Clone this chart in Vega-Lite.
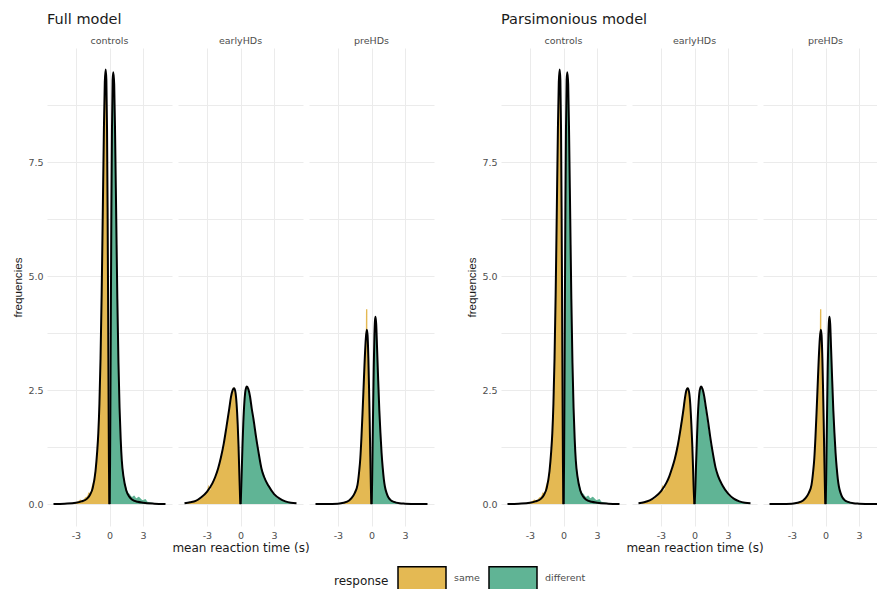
{
 "$schema": "https://vega.github.io/schema/vega-lite/v6.json",
 "background": "white",
 "padding": {"left": 12, "top": 12, "right": 0, "bottom": 0},
 "datasets": {"d": [
  {"k":"h","m":"*","g":"controls","r":"same","x":-4.2,"y":0},
  {"k":"h","m":"*","g":"controls","r":"same","x":-3.6,"y":0.02},
  {"k":"h","m":"*","g":"controls","r":"same","x":-3.2,"y":0.03},
  {"k":"h","m":"*","g":"controls","r":"same","x":-2.8,"y":0.06},
  {"k":"h","m":"*","g":"controls","r":"same","x":-2.6,"y":0.1},
  {"k":"h","m":"*","g":"controls","r":"same","x":-2.4,"y":0.07},
  {"k":"h","m":"*","g":"controls","r":"same","x":-2.2,"y":0.14},
  {"k":"h","m":"*","g":"controls","r":"same","x":-2.0,"y":0.17},
  {"k":"h","m":"*","g":"controls","r":"same","x":-1.85,"y":0.26},
  {"k":"h","m":"*","g":"controls","r":"same","x":-1.7,"y":0.24},
  {"k":"h","m":"*","g":"controls","r":"same","x":-1.6,"y":0.38},
  {"k":"h","m":"*","g":"controls","r":"same","x":-1.5,"y":0.46},
  {"k":"h","m":"*","g":"controls","r":"same","x":-1.4,"y":0.55},
  {"k":"h","m":"*","g":"controls","r":"same","x":-1.3,"y":0.72},
  {"k":"h","m":"*","g":"controls","r":"same","x":-1.2,"y":0.95},
  {"k":"h","m":"*","g":"controls","r":"same","x":-1.1,"y":1.2},
  {"k":"h","m":"*","g":"controls","r":"same","x":-1.0,"y":1.55},
  {"k":"h","m":"*","g":"controls","r":"same","x":-0.9,"y":2.2},
  {"k":"h","m":"*","g":"controls","r":"same","x":-0.8,"y":3.2},
  {"k":"h","m":"*","g":"controls","r":"same","x":-0.7,"y":4.6},
  {"k":"h","m":"*","g":"controls","r":"same","x":-0.6,"y":6.4},
  {"k":"h","m":"*","g":"controls","r":"same","x":-0.5,"y":8.2},
  {"k":"h","m":"*","g":"controls","r":"same","x":-0.42,"y":9.25},
  {"k":"h","m":"*","g":"controls","r":"same","x":-0.34,"y":9.5},
  {"k":"h","m":"*","g":"controls","r":"same","x":-0.28,"y":9.3},
  {"k":"h","m":"*","g":"controls","r":"same","x":-0.22,"y":8.2},
  {"k":"h","m":"*","g":"controls","r":"same","x":-0.17,"y":6.5},
  {"k":"h","m":"*","g":"controls","r":"same","x":-0.12,"y":4.2},
  {"k":"h","m":"*","g":"controls","r":"same","x":-0.08,"y":2.2},
  {"k":"h","m":"*","g":"controls","r":"same","x":-0.05,"y":0.9},
  {"k":"h","m":"*","g":"controls","r":"same","x":-0.02,"y":0.15},
  {"k":"h","m":"*","g":"controls","r":"same","x":0,"y":0},
  {"k":"h","m":"*","g":"controls","r":"different","x":0,"y":0},
  {"k":"h","m":"*","g":"controls","r":"different","x":0.02,"y":0.15},
  {"k":"h","m":"*","g":"controls","r":"different","x":0.05,"y":0.9},
  {"k":"h","m":"*","g":"controls","r":"different","x":0.08,"y":2.2},
  {"k":"h","m":"*","g":"controls","r":"different","x":0.12,"y":4.2},
  {"k":"h","m":"*","g":"controls","r":"different","x":0.17,"y":6.5},
  {"k":"h","m":"*","g":"controls","r":"different","x":0.22,"y":8.2},
  {"k":"h","m":"*","g":"controls","r":"different","x":0.28,"y":9.3},
  {"k":"h","m":"*","g":"controls","r":"different","x":0.34,"y":9.45},
  {"k":"h","m":"*","g":"controls","r":"different","x":0.42,"y":9.2},
  {"k":"h","m":"*","g":"controls","r":"different","x":0.5,"y":8.1},
  {"k":"h","m":"*","g":"controls","r":"different","x":0.6,"y":6.3},
  {"k":"h","m":"*","g":"controls","r":"different","x":0.7,"y":4.5},
  {"k":"h","m":"*","g":"controls","r":"different","x":0.8,"y":3.1},
  {"k":"h","m":"*","g":"controls","r":"different","x":0.9,"y":2.1},
  {"k":"h","m":"*","g":"controls","r":"different","x":1.0,"y":1.45},
  {"k":"h","m":"*","g":"controls","r":"different","x":1.1,"y":1.05},
  {"k":"h","m":"*","g":"controls","r":"different","x":1.2,"y":0.78},
  {"k":"h","m":"*","g":"controls","r":"different","x":1.3,"y":0.58},
  {"k":"h","m":"*","g":"controls","r":"different","x":1.4,"y":0.46},
  {"k":"h","m":"*","g":"controls","r":"different","x":1.5,"y":0.36},
  {"k":"h","m":"*","g":"controls","r":"different","x":1.6,"y":0.28},
  {"k":"h","m":"*","g":"controls","r":"different","x":1.8,"y":0.22},
  {"k":"h","m":"*","g":"controls","r":"different","x":2.0,"y":0.16},
  {"k":"h","m":"*","g":"controls","r":"different","x":2.2,"y":0.19},
  {"k":"h","m":"*","g":"controls","r":"different","x":2.4,"y":0.13},
  {"k":"h","m":"*","g":"controls","r":"different","x":2.6,"y":0.16},
  {"k":"h","m":"*","g":"controls","r":"different","x":2.8,"y":0.12},
  {"k":"h","m":"*","g":"controls","r":"different","x":3.0,"y":0.09},
  {"k":"h","m":"*","g":"controls","r":"different","x":3.2,"y":0.11},
  {"k":"h","m":"*","g":"controls","r":"different","x":3.4,"y":0.05},
  {"k":"h","m":"*","g":"controls","r":"different","x":3.8,"y":0.03},
  {"k":"h","m":"*","g":"controls","r":"different","x":4.4,"y":0},

  {"k":"d","m":"*","g":"controls","r":"same","x":-5,"y":0},
  {"k":"d","m":"*","g":"controls","r":"same","x":-4,"y":0.01},
  {"k":"d","m":"*","g":"controls","r":"same","x":-3,"y":0.03},
  {"k":"d","m":"*","g":"controls","r":"same","x":-2.5,"y":0.06},
  {"k":"d","m":"*","g":"controls","r":"same","x":-2,"y":0.12},
  {"k":"d","m":"*","g":"controls","r":"same","x":-1.75,"y":0.2},
  {"k":"d","m":"*","g":"controls","r":"same","x":-1.5,"y":0.35},
  {"k":"d","m":"*","g":"controls","r":"same","x":-1.25,"y":0.72},
  {"k":"d","m":"*","g":"controls","r":"same","x":-1.1,"y":1.15},
  {"k":"d","m":"*","g":"controls","r":"same","x":-1.0,"y":1.55},
  {"k":"d","m":"*","g":"controls","r":"same","x":-0.9,"y":2.2},
  {"k":"d","m":"*","g":"controls","r":"same","x":-0.8,"y":3.2},
  {"k":"d","m":"*","g":"controls","r":"same","x":-0.7,"y":4.6},
  {"k":"d","m":"*","g":"controls","r":"same","x":-0.6,"y":6.4},
  {"k":"d","m":"*","g":"controls","r":"same","x":-0.5,"y":8.2},
  {"k":"d","m":"*","g":"controls","r":"same","x":-0.42,"y":9.25},
  {"k":"d","m":"*","g":"controls","r":"same","x":-0.34,"y":9.53},
  {"k":"d","m":"*","g":"controls","r":"same","x":-0.28,"y":9.3},
  {"k":"d","m":"*","g":"controls","r":"same","x":-0.22,"y":8.2},
  {"k":"d","m":"*","g":"controls","r":"same","x":-0.17,"y":6.5},
  {"k":"d","m":"*","g":"controls","r":"same","x":-0.12,"y":4.2},
  {"k":"d","m":"*","g":"controls","r":"same","x":-0.08,"y":2.2},
  {"k":"d","m":"*","g":"controls","r":"same","x":-0.05,"y":0.9},
  {"k":"d","m":"*","g":"controls","r":"same","x":-0.02,"y":0.15},
  {"k":"d","m":"*","g":"controls","r":"same","x":0,"y":0},
  {"k":"d","m":"*","g":"controls","r":"different","x":0,"y":0},
  {"k":"d","m":"*","g":"controls","r":"different","x":0.02,"y":0.15},
  {"k":"d","m":"*","g":"controls","r":"different","x":0.05,"y":0.9},
  {"k":"d","m":"*","g":"controls","r":"different","x":0.08,"y":2.2},
  {"k":"d","m":"*","g":"controls","r":"different","x":0.12,"y":4.2},
  {"k":"d","m":"*","g":"controls","r":"different","x":0.17,"y":6.5},
  {"k":"d","m":"*","g":"controls","r":"different","x":0.22,"y":8.2},
  {"k":"d","m":"*","g":"controls","r":"different","x":0.28,"y":9.3},
  {"k":"d","m":"*","g":"controls","r":"different","x":0.34,"y":9.47},
  {"k":"d","m":"*","g":"controls","r":"different","x":0.42,"y":9.2},
  {"k":"d","m":"*","g":"controls","r":"different","x":0.5,"y":8.1},
  {"k":"d","m":"*","g":"controls","r":"different","x":0.6,"y":6.3},
  {"k":"d","m":"*","g":"controls","r":"different","x":0.7,"y":4.5},
  {"k":"d","m":"*","g":"controls","r":"different","x":0.8,"y":3.1},
  {"k":"d","m":"*","g":"controls","r":"different","x":0.9,"y":2.1},
  {"k":"d","m":"*","g":"controls","r":"different","x":1.0,"y":1.42},
  {"k":"d","m":"*","g":"controls","r":"different","x":1.1,"y":0.95},
  {"k":"d","m":"*","g":"controls","r":"different","x":1.25,"y":0.6},
  {"k":"d","m":"*","g":"controls","r":"different","x":1.5,"y":0.3},
  {"k":"d","m":"*","g":"controls","r":"different","x":1.75,"y":0.17},
  {"k":"d","m":"*","g":"controls","r":"different","x":2,"y":0.1},
  {"k":"d","m":"*","g":"controls","r":"different","x":2.5,"y":0.05},
  {"k":"d","m":"*","g":"controls","r":"different","x":3,"y":0.03},
  {"k":"d","m":"*","g":"controls","r":"different","x":4,"y":0.01},
  {"k":"d","m":"*","g":"controls","r":"different","x":5,"y":0},

  {"k":"h","m":"*","g":"earlyHDs","r":"same","x":-5,"y":0},
  {"k":"h","m":"*","g":"earlyHDs","r":"same","x":-4.6,"y":0.03},
  {"k":"h","m":"*","g":"earlyHDs","r":"same","x":-4.2,"y":0.05},
  {"k":"h","m":"*","g":"earlyHDs","r":"same","x":-3.8,"y":0.09},
  {"k":"h","m":"*","g":"earlyHDs","r":"same","x":-3.5,"y":0.13},
  {"k":"h","m":"*","g":"earlyHDs","r":"same","x":-3.2,"y":0.2},
  {"k":"h","m":"*","g":"earlyHDs","r":"same","x":-3.0,"y":0.27},
  {"k":"h","m":"*","g":"earlyHDs","r":"same","x":-2.85,"y":0.42},
  {"k":"h","m":"*","g":"earlyHDs","r":"same","x":-2.75,"y":0.3},
  {"k":"h","m":"*","g":"earlyHDs","r":"same","x":-2.5,"y":0.48},
  {"k":"h","m":"*","g":"earlyHDs","r":"same","x":-2.25,"y":0.62},
  {"k":"h","m":"*","g":"earlyHDs","r":"same","x":-2.0,"y":0.8},
  {"k":"h","m":"*","g":"earlyHDs","r":"same","x":-1.75,"y":1.05},
  {"k":"h","m":"*","g":"earlyHDs","r":"same","x":-1.5,"y":1.36},
  {"k":"h","m":"*","g":"earlyHDs","r":"same","x":-1.25,"y":1.74},
  {"k":"h","m":"*","g":"earlyHDs","r":"same","x":-1.0,"y":2.14},
  {"k":"h","m":"*","g":"earlyHDs","r":"same","x":-0.85,"y":2.38},
  {"k":"h","m":"*","g":"earlyHDs","r":"same","x":-0.7,"y":2.52},
  {"k":"h","m":"*","g":"earlyHDs","r":"same","x":-0.6,"y":2.56},
  {"k":"h","m":"*","g":"earlyHDs","r":"same","x":-0.5,"y":2.46},
  {"k":"h","m":"*","g":"earlyHDs","r":"same","x":-0.4,"y":2.28},
  {"k":"h","m":"*","g":"earlyHDs","r":"same","x":-0.3,"y":1.98},
  {"k":"h","m":"*","g":"earlyHDs","r":"same","x":-0.25,"y":1.75},
  {"k":"h","m":"*","g":"earlyHDs","r":"same","x":-0.18,"y":1.3},
  {"k":"h","m":"*","g":"earlyHDs","r":"same","x":-0.12,"y":0.8},
  {"k":"h","m":"*","g":"earlyHDs","r":"same","x":-0.07,"y":0.4},
  {"k":"h","m":"*","g":"earlyHDs","r":"same","x":-0.03,"y":0.1},
  {"k":"h","m":"*","g":"earlyHDs","r":"same","x":0,"y":0},
  {"k":"h","m":"*","g":"earlyHDs","r":"different","x":0,"y":0},
  {"k":"h","m":"*","g":"earlyHDs","r":"different","x":0.03,"y":0.1},
  {"k":"h","m":"*","g":"earlyHDs","r":"different","x":0.07,"y":0.42},
  {"k":"h","m":"*","g":"earlyHDs","r":"different","x":0.12,"y":0.85},
  {"k":"h","m":"*","g":"earlyHDs","r":"different","x":0.18,"y":1.35},
  {"k":"h","m":"*","g":"earlyHDs","r":"different","x":0.25,"y":1.82},
  {"k":"h","m":"*","g":"earlyHDs","r":"different","x":0.35,"y":2.28},
  {"k":"h","m":"*","g":"earlyHDs","r":"different","x":0.45,"y":2.5},
  {"k":"h","m":"*","g":"earlyHDs","r":"different","x":0.57,"y":2.55},
  {"k":"h","m":"*","g":"earlyHDs","r":"different","x":0.7,"y":2.5},
  {"k":"h","m":"*","g":"earlyHDs","r":"different","x":0.85,"y":2.32},
  {"k":"h","m":"*","g":"earlyHDs","r":"different","x":1.0,"y":2.06},
  {"k":"h","m":"*","g":"earlyHDs","r":"different","x":1.2,"y":1.72},
  {"k":"h","m":"*","g":"earlyHDs","r":"different","x":1.4,"y":1.4},
  {"k":"h","m":"*","g":"earlyHDs","r":"different","x":1.6,"y":1.12},
  {"k":"h","m":"*","g":"earlyHDs","r":"different","x":1.8,"y":0.9},
  {"k":"h","m":"*","g":"earlyHDs","r":"different","x":2.0,"y":0.72},
  {"k":"h","m":"*","g":"earlyHDs","r":"different","x":2.25,"y":0.54},
  {"k":"h","m":"*","g":"earlyHDs","r":"different","x":2.5,"y":0.4},
  {"k":"h","m":"*","g":"earlyHDs","r":"different","x":2.75,"y":0.3},
  {"k":"h","m":"*","g":"earlyHDs","r":"different","x":3.0,"y":0.2},
  {"k":"h","m":"*","g":"earlyHDs","r":"different","x":3.5,"y":0.1},
  {"k":"h","m":"*","g":"earlyHDs","r":"different","x":4.0,"y":0.05},
  {"k":"h","m":"*","g":"earlyHDs","r":"different","x":4.5,"y":0.02},
  {"k":"h","m":"*","g":"earlyHDs","r":"different","x":5,"y":0},

  {"k":"d","m":"F","g":"earlyHDs","r":"same","x":-5,"y":0.02},
  {"k":"d","m":"F","g":"earlyHDs","r":"same","x":-4.5,"y":0.04},
  {"k":"d","m":"F","g":"earlyHDs","r":"same","x":-4,"y":0.07},
  {"k":"d","m":"F","g":"earlyHDs","r":"same","x":-3.5,"y":0.15},
  {"k":"d","m":"F","g":"earlyHDs","r":"same","x":-3,"y":0.27},
  {"k":"d","m":"F","g":"earlyHDs","r":"same","x":-2.5,"y":0.46},
  {"k":"d","m":"F","g":"earlyHDs","r":"same","x":-2.25,"y":0.6},
  {"k":"d","m":"F","g":"earlyHDs","r":"same","x":-2,"y":0.78},
  {"k":"d","m":"F","g":"earlyHDs","r":"same","x":-1.75,"y":1.02},
  {"k":"d","m":"F","g":"earlyHDs","r":"same","x":-1.5,"y":1.32},
  {"k":"d","m":"F","g":"earlyHDs","r":"same","x":-1.25,"y":1.7},
  {"k":"d","m":"F","g":"earlyHDs","r":"same","x":-1.0,"y":2.1},
  {"k":"d","m":"F","g":"earlyHDs","r":"same","x":-0.85,"y":2.35},
  {"k":"d","m":"F","g":"earlyHDs","r":"same","x":-0.7,"y":2.5},
  {"k":"d","m":"F","g":"earlyHDs","r":"same","x":-0.57,"y":2.54},
  {"k":"d","m":"F","g":"earlyHDs","r":"same","x":-0.45,"y":2.45},
  {"k":"d","m":"F","g":"earlyHDs","r":"same","x":-0.35,"y":2.2},
  {"k":"d","m":"F","g":"earlyHDs","r":"same","x":-0.25,"y":1.75},
  {"k":"d","m":"F","g":"earlyHDs","r":"same","x":-0.18,"y":1.3},
  {"k":"d","m":"F","g":"earlyHDs","r":"same","x":-0.12,"y":0.8},
  {"k":"d","m":"F","g":"earlyHDs","r":"same","x":-0.07,"y":0.4},
  {"k":"d","m":"F","g":"earlyHDs","r":"same","x":-0.03,"y":0.1},
  {"k":"d","m":"F","g":"earlyHDs","r":"same","x":0,"y":0},
  {"k":"d","m":"F","g":"earlyHDs","r":"different","x":0,"y":0},
  {"k":"d","m":"F","g":"earlyHDs","r":"different","x":0.03,"y":0.1},
  {"k":"d","m":"F","g":"earlyHDs","r":"different","x":0.07,"y":0.4},
  {"k":"d","m":"F","g":"earlyHDs","r":"different","x":0.12,"y":0.8},
  {"k":"d","m":"F","g":"earlyHDs","r":"different","x":0.18,"y":1.3},
  {"k":"d","m":"F","g":"earlyHDs","r":"different","x":0.25,"y":1.78},
  {"k":"d","m":"F","g":"earlyHDs","r":"different","x":0.35,"y":2.25},
  {"k":"d","m":"F","g":"earlyHDs","r":"different","x":0.45,"y":2.5},
  {"k":"d","m":"F","g":"earlyHDs","r":"different","x":0.57,"y":2.58},
  {"k":"d","m":"F","g":"earlyHDs","r":"different","x":0.7,"y":2.52},
  {"k":"d","m":"F","g":"earlyHDs","r":"different","x":0.85,"y":2.36},
  {"k":"d","m":"F","g":"earlyHDs","r":"different","x":1.0,"y":2.1},
  {"k":"d","m":"F","g":"earlyHDs","r":"different","x":1.16,"y":1.86},
  {"k":"d","m":"F","g":"earlyHDs","r":"different","x":1.4,"y":1.45},
  {"k":"d","m":"F","g":"earlyHDs","r":"different","x":1.6,"y":1.15},
  {"k":"d","m":"F","g":"earlyHDs","r":"different","x":1.88,"y":0.77},
  {"k":"d","m":"F","g":"earlyHDs","r":"different","x":2.1,"y":0.6},
  {"k":"d","m":"F","g":"earlyHDs","r":"different","x":2.5,"y":0.4},
  {"k":"d","m":"F","g":"earlyHDs","r":"different","x":3,"y":0.22},
  {"k":"d","m":"F","g":"earlyHDs","r":"different","x":3.5,"y":0.12},
  {"k":"d","m":"F","g":"earlyHDs","r":"different","x":4,"y":0.06},
  {"k":"d","m":"F","g":"earlyHDs","r":"different","x":4.5,"y":0.03},
  {"k":"d","m":"F","g":"earlyHDs","r":"different","x":5,"y":0.02},

  {"k":"d","m":"P","g":"earlyHDs","r":"same","x":-5,"y":0.02},
  {"k":"d","m":"P","g":"earlyHDs","r":"same","x":-4.5,"y":0.04},
  {"k":"d","m":"P","g":"earlyHDs","r":"same","x":-4,"y":0.08},
  {"k":"d","m":"P","g":"earlyHDs","r":"same","x":-3.5,"y":0.16},
  {"k":"d","m":"P","g":"earlyHDs","r":"same","x":-3,"y":0.28},
  {"k":"d","m":"P","g":"earlyHDs","r":"same","x":-2.5,"y":0.47},
  {"k":"d","m":"P","g":"earlyHDs","r":"same","x":-2.25,"y":0.61},
  {"k":"d","m":"P","g":"earlyHDs","r":"same","x":-2,"y":0.79},
  {"k":"d","m":"P","g":"earlyHDs","r":"same","x":-1.75,"y":1.0},
  {"k":"d","m":"P","g":"earlyHDs","r":"same","x":-1.5,"y":1.28},
  {"k":"d","m":"P","g":"earlyHDs","r":"same","x":-1.25,"y":1.64},
  {"k":"d","m":"P","g":"earlyHDs","r":"same","x":-1.0,"y":2.05},
  {"k":"d","m":"P","g":"earlyHDs","r":"same","x":-0.85,"y":2.33},
  {"k":"d","m":"P","g":"earlyHDs","r":"same","x":-0.72,"y":2.5},
  {"k":"d","m":"P","g":"earlyHDs","r":"same","x":-0.6,"y":2.54},
  {"k":"d","m":"P","g":"earlyHDs","r":"same","x":-0.48,"y":2.45},
  {"k":"d","m":"P","g":"earlyHDs","r":"same","x":-0.38,"y":2.2},
  {"k":"d","m":"P","g":"earlyHDs","r":"same","x":-0.28,"y":1.75},
  {"k":"d","m":"P","g":"earlyHDs","r":"same","x":-0.2,"y":1.3},
  {"k":"d","m":"P","g":"earlyHDs","r":"same","x":-0.13,"y":0.8},
  {"k":"d","m":"P","g":"earlyHDs","r":"same","x":-0.08,"y":0.4},
  {"k":"d","m":"P","g":"earlyHDs","r":"same","x":-0.03,"y":0.1},
  {"k":"d","m":"P","g":"earlyHDs","r":"same","x":0,"y":0},
  {"k":"d","m":"P","g":"earlyHDs","r":"different","x":0,"y":0},
  {"k":"d","m":"P","g":"earlyHDs","r":"different","x":0.03,"y":0.1},
  {"k":"d","m":"P","g":"earlyHDs","r":"different","x":0.08,"y":0.4},
  {"k":"d","m":"P","g":"earlyHDs","r":"different","x":0.13,"y":0.8},
  {"k":"d","m":"P","g":"earlyHDs","r":"different","x":0.2,"y":1.3},
  {"k":"d","m":"P","g":"earlyHDs","r":"different","x":0.27,"y":1.78},
  {"k":"d","m":"P","g":"earlyHDs","r":"different","x":0.37,"y":2.25},
  {"k":"d","m":"P","g":"earlyHDs","r":"different","x":0.47,"y":2.5},
  {"k":"d","m":"P","g":"earlyHDs","r":"different","x":0.6,"y":2.58},
  {"k":"d","m":"P","g":"earlyHDs","r":"different","x":0.72,"y":2.52},
  {"k":"d","m":"P","g":"earlyHDs","r":"different","x":0.87,"y":2.36},
  {"k":"d","m":"P","g":"earlyHDs","r":"different","x":1.0,"y":2.15},
  {"k":"d","m":"P","g":"earlyHDs","r":"different","x":1.2,"y":1.83},
  {"k":"d","m":"P","g":"earlyHDs","r":"different","x":1.4,"y":1.48},
  {"k":"d","m":"P","g":"earlyHDs","r":"different","x":1.6,"y":1.17},
  {"k":"d","m":"P","g":"earlyHDs","r":"different","x":1.88,"y":0.8},
  {"k":"d","m":"P","g":"earlyHDs","r":"different","x":2.1,"y":0.62},
  {"k":"d","m":"P","g":"earlyHDs","r":"different","x":2.5,"y":0.41},
  {"k":"d","m":"P","g":"earlyHDs","r":"different","x":3,"y":0.23},
  {"k":"d","m":"P","g":"earlyHDs","r":"different","x":3.5,"y":0.12},
  {"k":"d","m":"P","g":"earlyHDs","r":"different","x":4,"y":0.06},
  {"k":"d","m":"P","g":"earlyHDs","r":"different","x":4.5,"y":0.03},
  {"k":"d","m":"P","g":"earlyHDs","r":"different","x":5,"y":0.02},

  {"k":"h","m":"*","g":"preHDs","r":"same","x":-4,"y":0},
  {"k":"h","m":"*","g":"preHDs","r":"same","x":-3.2,"y":0.01},
  {"k":"h","m":"*","g":"preHDs","r":"same","x":-2.6,"y":0.03},
  {"k":"h","m":"*","g":"preHDs","r":"same","x":-2.2,"y":0.06},
  {"k":"h","m":"*","g":"preHDs","r":"same","x":-2.0,"y":0.09},
  {"k":"h","m":"*","g":"preHDs","r":"same","x":-1.8,"y":0.12},
  {"k":"h","m":"*","g":"preHDs","r":"same","x":-1.6,"y":0.2},
  {"k":"h","m":"*","g":"preHDs","r":"same","x":-1.5,"y":0.3},
  {"k":"h","m":"*","g":"preHDs","r":"same","x":-1.4,"y":0.28},
  {"k":"h","m":"*","g":"preHDs","r":"same","x":-1.3,"y":0.38},
  {"k":"h","m":"*","g":"preHDs","r":"same","x":-1.2,"y":0.52},
  {"k":"h","m":"*","g":"preHDs","r":"same","x":-1.1,"y":0.74},
  {"k":"h","m":"*","g":"preHDs","r":"same","x":-1.0,"y":1.0},
  {"k":"h","m":"*","g":"preHDs","r":"same","x":-0.9,"y":1.45},
  {"k":"h","m":"*","g":"preHDs","r":"same","x":-0.8,"y":2.0},
  {"k":"h","m":"*","g":"preHDs","r":"same","x":-0.7,"y":2.6},
  {"k":"h","m":"*","g":"preHDs","r":"same","x":-0.6,"y":3.2},
  {"k":"h","m":"*","g":"preHDs","r":"same","x":-0.5,"y":3.62},
  {"k":"h","m":"*","g":"preHDs","r":"same","x":-0.49,"y":4.27},
  {"k":"h","m":"*","g":"preHDs","r":"same","x":-0.37,"y":4.27},
  {"k":"h","m":"*","g":"preHDs","r":"same","x":-0.36,"y":3.68},
  {"k":"h","m":"*","g":"preHDs","r":"same","x":-0.28,"y":3.2},
  {"k":"h","m":"*","g":"preHDs","r":"same","x":-0.22,"y":2.55},
  {"k":"h","m":"*","g":"preHDs","r":"same","x":-0.16,"y":1.8},
  {"k":"h","m":"*","g":"preHDs","r":"same","x":-0.11,"y":1.1},
  {"k":"h","m":"*","g":"preHDs","r":"same","x":-0.06,"y":0.45},
  {"k":"h","m":"*","g":"preHDs","r":"same","x":-0.03,"y":0.12},
  {"k":"h","m":"*","g":"preHDs","r":"same","x":0,"y":0},
  {"k":"h","m":"*","g":"preHDs","r":"different","x":0,"y":0},
  {"k":"h","m":"*","g":"preHDs","r":"different","x":0.03,"y":0.15},
  {"k":"h","m":"*","g":"preHDs","r":"different","x":0.06,"y":0.55},
  {"k":"h","m":"*","g":"preHDs","r":"different","x":0.1,"y":1.3},
  {"k":"h","m":"*","g":"preHDs","r":"different","x":0.15,"y":2.2},
  {"k":"h","m":"*","g":"preHDs","r":"different","x":0.2,"y":3.0},
  {"k":"h","m":"*","g":"preHDs","r":"different","x":0.26,"y":3.7},
  {"k":"h","m":"*","g":"preHDs","r":"different","x":0.31,"y":4.0},
  {"k":"h","m":"*","g":"preHDs","r":"different","x":0.36,"y":4.08},
  {"k":"h","m":"*","g":"preHDs","r":"different","x":0.42,"y":3.93},
  {"k":"h","m":"*","g":"preHDs","r":"different","x":0.5,"y":3.4},
  {"k":"h","m":"*","g":"preHDs","r":"different","x":0.6,"y":2.7},
  {"k":"h","m":"*","g":"preHDs","r":"different","x":0.7,"y":2.05},
  {"k":"h","m":"*","g":"preHDs","r":"different","x":0.8,"y":1.55},
  {"k":"h","m":"*","g":"preHDs","r":"different","x":0.9,"y":1.15},
  {"k":"h","m":"*","g":"preHDs","r":"different","x":1.0,"y":0.84},
  {"k":"h","m":"*","g":"preHDs","r":"different","x":1.1,"y":0.58},
  {"k":"h","m":"*","g":"preHDs","r":"different","x":1.2,"y":0.42},
  {"k":"h","m":"*","g":"preHDs","r":"different","x":1.35,"y":0.26},
  {"k":"h","m":"*","g":"preHDs","r":"different","x":1.5,"y":0.17},
  {"k":"h","m":"*","g":"preHDs","r":"different","x":1.7,"y":0.1},
  {"k":"h","m":"*","g":"preHDs","r":"different","x":2.0,"y":0.06},
  {"k":"h","m":"*","g":"preHDs","r":"different","x":2.4,"y":0.03},
  {"k":"h","m":"*","g":"preHDs","r":"different","x":3.0,"y":0.01},
  {"k":"h","m":"*","g":"preHDs","r":"different","x":3.6,"y":0},

  {"k":"d","m":"*","g":"preHDs","r":"same","x":-5,"y":0},
  {"k":"d","m":"*","g":"preHDs","r":"same","x":-4,"y":0},
  {"k":"d","m":"*","g":"preHDs","r":"same","x":-3,"y":0.01},
  {"k":"d","m":"*","g":"preHDs","r":"same","x":-2.5,"y":0.03},
  {"k":"d","m":"*","g":"preHDs","r":"same","x":-2,"y":0.08},
  {"k":"d","m":"*","g":"preHDs","r":"same","x":-1.75,"y":0.14},
  {"k":"d","m":"*","g":"preHDs","r":"same","x":-1.5,"y":0.24},
  {"k":"d","m":"*","g":"preHDs","r":"same","x":-1.25,"y":0.42},
  {"k":"d","m":"*","g":"preHDs","r":"same","x":-1.1,"y":0.72},
  {"k":"d","m":"*","g":"preHDs","r":"same","x":-1.0,"y":1.0},
  {"k":"d","m":"*","g":"preHDs","r":"same","x":-0.9,"y":1.45},
  {"k":"d","m":"*","g":"preHDs","r":"same","x":-0.8,"y":2.0},
  {"k":"d","m":"*","g":"preHDs","r":"same","x":-0.7,"y":2.6},
  {"k":"d","m":"*","g":"preHDs","r":"same","x":-0.6,"y":3.2},
  {"k":"d","m":"*","g":"preHDs","r":"same","x":-0.5,"y":3.65},
  {"k":"d","m":"*","g":"preHDs","r":"same","x":-0.42,"y":3.82},
  {"k":"d","m":"*","g":"preHDs","r":"same","x":-0.35,"y":3.7},
  {"k":"d","m":"*","g":"preHDs","r":"same","x":-0.28,"y":3.2},
  {"k":"d","m":"*","g":"preHDs","r":"same","x":-0.22,"y":2.55},
  {"k":"d","m":"*","g":"preHDs","r":"same","x":-0.16,"y":1.8},
  {"k":"d","m":"*","g":"preHDs","r":"same","x":-0.11,"y":1.1},
  {"k":"d","m":"*","g":"preHDs","r":"same","x":-0.06,"y":0.45},
  {"k":"d","m":"*","g":"preHDs","r":"same","x":-0.03,"y":0.12},
  {"k":"d","m":"*","g":"preHDs","r":"same","x":0,"y":0},
  {"k":"d","m":"*","g":"preHDs","r":"different","x":0,"y":0},
  {"k":"d","m":"*","g":"preHDs","r":"different","x":0.03,"y":0.15},
  {"k":"d","m":"*","g":"preHDs","r":"different","x":0.06,"y":0.55},
  {"k":"d","m":"*","g":"preHDs","r":"different","x":0.1,"y":1.3},
  {"k":"d","m":"*","g":"preHDs","r":"different","x":0.15,"y":2.2},
  {"k":"d","m":"*","g":"preHDs","r":"different","x":0.2,"y":3.0},
  {"k":"d","m":"*","g":"preHDs","r":"different","x":0.26,"y":3.7},
  {"k":"d","m":"*","g":"preHDs","r":"different","x":0.31,"y":4.02},
  {"k":"d","m":"*","g":"preHDs","r":"different","x":0.36,"y":4.11},
  {"k":"d","m":"*","g":"preHDs","r":"different","x":0.42,"y":3.95},
  {"k":"d","m":"*","g":"preHDs","r":"different","x":0.5,"y":3.4},
  {"k":"d","m":"*","g":"preHDs","r":"different","x":0.6,"y":2.7},
  {"k":"d","m":"*","g":"preHDs","r":"different","x":0.7,"y":2.05},
  {"k":"d","m":"*","g":"preHDs","r":"different","x":0.8,"y":1.55},
  {"k":"d","m":"*","g":"preHDs","r":"different","x":0.9,"y":1.12},
  {"k":"d","m":"*","g":"preHDs","r":"different","x":1.0,"y":0.8},
  {"k":"d","m":"*","g":"preHDs","r":"different","x":1.1,"y":0.55},
  {"k":"d","m":"*","g":"preHDs","r":"different","x":1.2,"y":0.38},
  {"k":"d","m":"*","g":"preHDs","r":"different","x":1.35,"y":0.24},
  {"k":"d","m":"*","g":"preHDs","r":"different","x":1.5,"y":0.15},
  {"k":"d","m":"*","g":"preHDs","r":"different","x":1.75,"y":0.08},
  {"k":"d","m":"*","g":"preHDs","r":"different","x":2,"y":0.05},
  {"k":"d","m":"*","g":"preHDs","r":"different","x":2.5,"y":0.02},
  {"k":"d","m":"*","g":"preHDs","r":"different","x":3,"y":0.01},
  {"k":"d","m":"*","g":"preHDs","r":"different","x":4,"y":0},
  {"k":"d","m":"*","g":"preHDs","r":"different","x":5,"y":0}
 ]},
 "hconcat": [
  {
   "title": {"text": "Full model", "anchor": "start", "frame": "group"},
   "data": {"name": "d"},
   "transform": [{"filter": "datum.m == '*' || datum.m == 'F'"}],
   "facet": {"column": {"field": "g", "type": "nominal", "sort": ["controls", "earlyHDs", "preHDs"],
     "header": {"title": "mean reaction time (s)", "titleOrient": "bottom", "labelOrient": "top"}}},
   "spacing": 6,
   "spec": {
    "width": 125, "height": 478,
    "resolve": {"axis": {"x": "independent"}},
    "layer": [
     {"transform": [{"filter": "datum.k == 'h'"}],
      "mark": {"type": "area", "interpolate": "monotone", "opacity": 1},
      "encoding": {
       "x": {"field": "x", "type": "quantitative", "scale": {"domain": [-5.58, 5.58], "nice": false, "zero": false},
         "axis": {"values": [-3, 0, 3], "format": "d", "labelOverlap": false, "orient": "bottom", "title": null}},
       "y": {"field": "y", "type": "quantitative", "stack": null, "scale": {"domain": [-0.48, 10], "nice": false, "zero": false},
         "axis": {"values": [0, 1.25, 2.5, 3.75, 5, 6.25, 7.5, 8.75], "labelExpr": "datum.value == 0 ? '0.0' : datum.value == 2.5 ? '2.5' : datum.value == 5 ? '5.0' : datum.value == 7.5 ? '7.5' : ''", "title": "frequencies"}},
       "y2": {"datum": 0},
       "color": {"field": "r", "type": "nominal", "scale": {"domain": ["same", "different"], "range": ["#E4B953", "#60B495"]}, "legend": {"title": ["", "response"]}}
      }},
     {"transform": [{"filter": "datum.k == 'd'"}],
      "mark": {"type": "line", "color": "black", "strokeWidth": 2, "interpolate": "monotone"},
      "encoding": {
       "x": {"field": "x", "type": "quantitative", "axis": {"values": [-4.5, -1.5, 1.5, 4.5], "labels": false, "orient": "bottom", "title": null, "labelPadding": 0}},
       "y": {"field": "y", "type": "quantitative"},
       "detail": {"field": "r", "type": "nominal"}
      }}
    ]
   }
  },
  {
   "title": {"text": "Parsimonious model", "anchor": "start", "frame": "group"},
   "data": {"name": "d"},
   "transform": [{"filter": "datum.m == '*' || datum.m == 'P'"}],
   "facet": {"column": {"field": "g", "type": "nominal", "sort": ["controls", "earlyHDs", "preHDs"],
     "header": {"title": "mean reaction time (s)", "titleOrient": "bottom", "labelOrient": "top"}}},
   "spacing": 6,
   "spec": {
    "width": 125, "height": 478,
    "resolve": {"axis": {"x": "independent"}},
    "layer": [
     {"transform": [{"filter": "datum.k == 'h'"}],
      "mark": {"type": "area", "interpolate": "monotone", "opacity": 1},
      "encoding": {
       "x": {"field": "x", "type": "quantitative", "scale": {"domain": [-5.58, 5.58], "nice": false, "zero": false},
         "axis": {"values": [-3, 0, 3], "format": "d", "labelOverlap": false, "orient": "bottom", "title": null}},
       "y": {"field": "y", "type": "quantitative", "stack": null, "scale": {"domain": [-0.48, 10], "nice": false, "zero": false},
         "axis": {"values": [0, 1.25, 2.5, 3.75, 5, 6.25, 7.5, 8.75], "labelExpr": "datum.value == 0 ? '0.0' : datum.value == 2.5 ? '2.5' : datum.value == 5 ? '5.0' : datum.value == 7.5 ? '7.5' : ''", "title": "frequencies"}},
       "y2": {"datum": 0},
       "color": {"field": "r", "type": "nominal", "scale": {"domain": ["same", "different"], "range": ["#E4B953", "#60B495"]}, "legend": {"title": ["", "response"]}}
      }},
     {"transform": [{"filter": "datum.k == 'd'"}],
      "mark": {"type": "line", "color": "black", "strokeWidth": 2, "interpolate": "monotone"},
      "encoding": {
       "x": {"field": "x", "type": "quantitative", "axis": {"values": [-4.5, -1.5, 1.5, 4.5], "labels": false, "orient": "bottom", "title": null, "labelPadding": 0}},
       "y": {"field": "y", "type": "quantitative"},
       "detail": {"field": "r", "type": "nominal"}
      }}
    ]
   }
  }
 ],
 "spacing": 32,
 "resolve": {"scale": {"color": "shared"}, "legend": {"color": "shared"}},
 "config": {
  "font": "DejaVu Sans",
  "locale": {"number": {"decimal": ".", "thousands": ",", "grouping": [3], "currency": ["$", ""], "minus": "-"}},
  "view": {"stroke": null},
  "axis": {"grid": true, "gridColor": "#EBEBEB", "gridWidth": 1, "domain": false, "ticks": false, "labelFontSize": 9.5, "labelColor": "#4D4D4D", "labelPadding": 4, "titleFontSize": 12, "titleColor": "#1A1A1A", "titleFontWeight": "normal"},
  "axisY": {"titleFont": "Liberation Sans", "titleFontSize": 11.6, "titlePadding": 4},
  "header": {"labelFontSize": 9.5, "labelColor": "#4D4D4D", "labelPadding": 3, "titleFontSize": 12, "titleColor": "#1A1A1A", "titleFontWeight": "normal", "titlePadding": -7},
  "title": {"fontSize": 14.5, "fontWeight": "normal", "color": "#1A1A1A", "offset": 8},
  "legend": {"orient": "none", "legendX": 287, "legendY": 505, "direction": "horizontal", "titleOrient": "left", "titleBaseline": "top", "titleLineHeight": 5.5, "titleFontSize": 12, "titleFontWeight": "normal", "titleColor": "#1A1A1A", "titlePadding": 8, "labelFontSize": 9.5, "labelColor": "#4D4D4D", "labelOffset": 7, "columnPadding": 6, "symbolType": "M-1,-0.48H1V0.48H-1Z", "symbolSize": 2304, "symbolStrokeColor": "black", "symbolStrokeWidth": 1.5, "symbolOpacity": 1}
 }
}
